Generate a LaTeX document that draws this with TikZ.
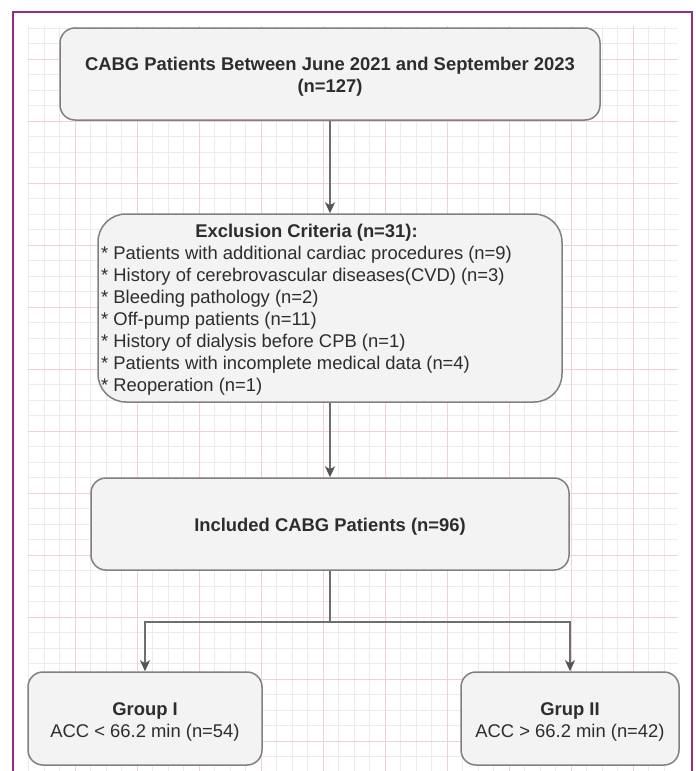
\documentclass[tikz,border=0pt]{standalone}
\usepackage{fontspec}
\setmainfont{Liberation Sans}
\usetikzlibrary{arrows.meta}
\definecolor{framepurple}{RGB}{150,45,130}
\definecolor{gridminor}{RGB}{238,234,236}
\definecolor{gridmajor}{RGB}{240,208,218}
\definecolor{boxfill}{RGB}{243,243,243}
\definecolor{boxline}{RGB}{128,128,128}
\definecolor{connline}{RGB}{110,110,110}
\definecolor{arrowcol}{RGB}{85,85,85}
\definecolor{txtcol}{RGB}{45,45,45}
\begin{document}
\begin{tikzpicture}[x=1pt,y=-1pt,
  box/.style={draw=boxline, fill=boxfill, line width=1.5pt, rounded corners=15pt, inner sep=0pt},
  txt/.style={inner sep=0pt, text=txtcol, font=\fontsize{18.4}{22}\selectfont},
  conn/.style={draw=connline, line width=1.6pt, -{Stealth[length=11pt,width=10pt,inset=3pt,color=arrowcol]}},
  link/.style={draw=connline, line width=1.6pt}]
\useasboundingbox (0,0) rectangle (696,771);
\fill[white] (0,0) rectangle (696,771);
% grid background
\begin{scope}
\clip (28,26) rectangle (678,771);
\foreach \i in {0,...,41} \draw[gridminor, line width=1pt] ({28.5+15.5*\i},26) -- ({28.5+15.5*\i},771);
\foreach \j in {0,...,48} \draw[gridminor, line width=1pt] (28,{28+15.5*\j}) -- (678,{28+15.5*\j});
\foreach \i in {-1,...,8} \draw[gridmajor, line width=1pt] ({137+62*\i},26) -- ({137+62*\i},771);
\foreach \j in {-1,...,10} \draw[gridmajor, line width=1pt] (28,{121+62*\j}) -- (678,{121+62*\j});
\end{scope}
% frame
\draw[framepurple, line width=2pt] (13,771) -- (13,12) -- (692,12) -- (692,771);
% boxes
\node[box, minimum width=540pt, minimum height=92pt] (b1) at (330,74) {};
\node[box, rounded corners=28pt, minimum width=464pt, minimum height=188pt] (b2) at (330,308) {};
\node[box, minimum width=478pt, minimum height=92pt] (b3) at (330,524) {};
\node[box, minimum width=234pt, minimum height=93pt] (b4) at (145,718.5) {};
\node[box, minimum width=218pt, minimum height=93pt] (b5) at (570,718.5) {};
% texts
\node[txt, anchor=base] (t1) at (330,70.3) {\begin{tabular}[t]{@{}c@{}}\bfseries CABG Patients Between June 2021 and September 2023\\ \bfseries (n=127)\end{tabular}};
\node[txt, anchor=base west] (t2) at (101,237.6) {\begin{tabular}[t]{@{}l@{}}\multicolumn{1}{@{}c@{}}{\bfseries Exclusion Criteria (n=31):}\\
{*} Patients with additional cardiac procedures (n=9)\\
{*} History of cerebrovascular diseases(CVD) (n=3)\\
{*} Bleeding pathology (n=2)\\
{*} Off-pump patients (n=11)\\
{*} History of dialysis before CPB (n=1)\\
{*} Patients with incomplete medical data (n=4)\\
{*} Reoperation (n=1)\end{tabular}};
\node[txt, anchor=base] (t3) at (330,531.1) {\bfseries Included CABG Patients (n=96)};
\node[txt, anchor=base] (t4) at (145,715) {\begin{tabular}[t]{@{}c@{}}\bfseries Group I\\ ACC < 66.2 min (n=54)\end{tabular}};
\node[txt, anchor=base] (t5) at (570,715) {\begin{tabular}[t]{@{}c@{}}\bfseries Grup II\\ ACC > 66.2 min (n=42)\end{tabular}};
% connectors
\coordinate (split) at (330,622);
\draw[conn] (b1.south) -- (b2.north);
\draw[conn] (b2.south) -- (b3.north);
\draw[link] (b3.south) -- (split);
\draw[conn] (split) -| (b4.north);
\draw[conn] (split) -| (b5.north);
\end{tikzpicture}
\end{document}
